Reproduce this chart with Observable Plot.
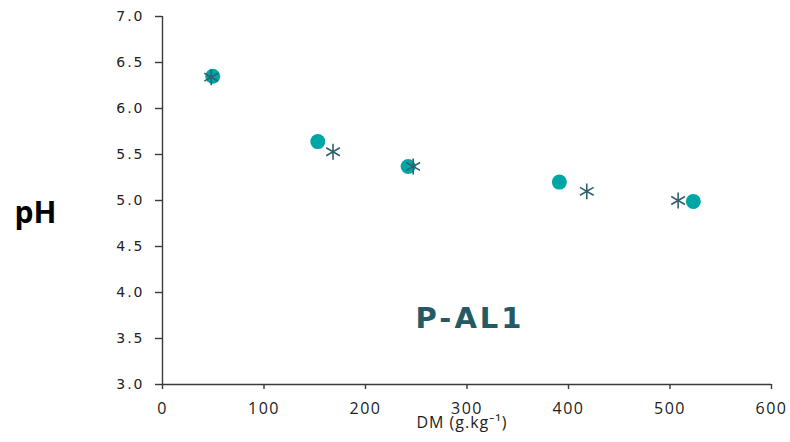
<!DOCTYPE html>
<html>
<head>
<meta charset="utf-8">
<script src="https://cdn.jsdelivr.net/npm/d3@7"></script>
<script src="https://cdn.jsdelivr.net/npm/@observablehq/plot@0.6"></script>
<style>
  html, body { margin: 0; padding: 0; background: #fff; }
  #chart svg { display: block; }
</style>
</head>
<body>
<div id="chart"></div>
<script>
// Series 1 (filled teal circles)
const circleDM = [49.5, 153, 242, 391, 523];
const circlePH = [6.35, 5.64, 5.37, 5.20, 4.99];
// Series 2 (asterisks)
const starDM = [48, 168, 247, 418, 508];
const starPH = [6.34, 5.53, 5.37, 5.10, 5.00];
// Axis ticks
const xTicks = [0, 100, 200, 300, 400, 500, 600];
const yTicks = [3.0, 3.5, 4.0, 4.5, 5.0, 5.5, 6.0, 6.5, 7.0];
// Texts
const yTitle = "pH";
const xTitle = "DM (g.kg\u207B\u00B9)";
const panelLabel = [{text: "P-AL1", dm: 303, ph: 3.71}];

const circles = circleDM.map((d, i) => ({dm: d, ph: circlePH[i]}));
const stars = starDM.map((d, i) => ({dm: d, ph: starPH[i]}));

const axisColor = "#3a3a3a";
const fmtY = d3.format(".1f");
const fmtX = d3.format("d");

const chart = Plot.plot({
  width: 790,
  height: 442,
  marginLeft: 162,
  marginRight: 19,
  marginTop: 16,
  marginBottom: 58,
  x: {domain: [0, 600]},
  y: {domain: [3, 7]},
  marks: [
    Plot.ruleX([0], {stroke: axisColor, strokeWidth: 1.4}),
    Plot.ruleY([3], {stroke: axisColor, strokeWidth: 1.4}),
    Plot.axisY({
      ticks: yTicks, tickFormat: fmtY, tickSize: 7, tickPadding: 11,
      stroke: axisColor, strokeWidth: 1.4, label: null, fill: "#222"
    }),
    Plot.axisX({
      ticks: xTicks, tickFormat: fmtX, tickSize: 5, tickPadding: 13,
      stroke: axisColor, strokeWidth: 1.4, label: null, fill: "#222"
    }),
    Plot.dot(circles, {x: "dm", y: "ph", r: 7.5, fill: "#00A5A5", stroke: "none"}),
    Plot.dot(stars, {x: "dm", y: "ph", r: 7.5, symbol: "asterisk", stroke: "#33606C", strokeWidth: 1.6}),
    Plot.text(panelLabel, {
      x: "dm", y: "ph", text: "text", fontSize: 29, fontWeight: "bold",
      fontFamily: "DejaVu Sans", fill: "#245A64"
    }),
    Plot.text([yTitle], {
      text: d => d, frameAnchor: "left", dx: -127, dy: 13,
      fontSize: 30, fontWeight: "bold", fontFamily: "Open Sans", fill: "#000", textAnchor: "middle"
    }),
    Plot.text([xTitle], {
      text: d => d, frameAnchor: "bottom", dx: -5, dy: 43,
      fontSize: 16, fontFamily: "Open Sans", fill: "#222"
    })
  ]
});

document.getElementById("chart").appendChild(chart);

const yLabelSet = new Set(yTicks.map(fmtY));
const xLabelSet = new Set(xTicks.map(fmtX));
d3.select(chart).selectAll("text").each(function() {
  const t = this.textContent;
  const sel = d3.select(this);
  if (yLabelSet.has(t)) {
    sel.attr("font-size", 14).attr("font-family", "DejaVu Sans")
      .style("font-size", "14px").style("font-family", "'DejaVu Sans'").style("letter-spacing", "2px");
  } else if (xLabelSet.has(t)) {
    sel.attr("font-size", 16).attr("font-family", "Open Sans")
      .style("font-size", "16px").style("font-family", "'Open Sans'").style("letter-spacing", "1.5px");
  } else if (t === "P-AL1") {
    sel.style("letter-spacing", "3px");
  } else if (t === xTitle) {
    sel.style("letter-spacing", "1px");
  }
});
</script>
</body>
</html>
